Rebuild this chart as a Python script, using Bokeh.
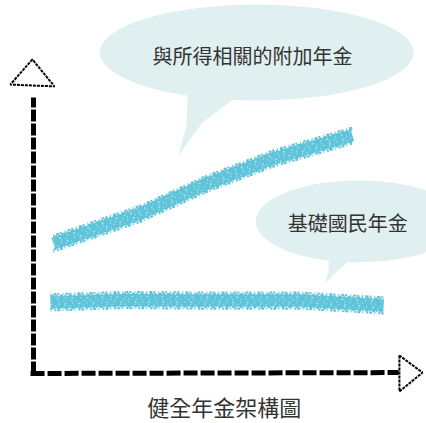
from bokeh.plotting import figure
from bokeh.models import Range1d, Label
from bokeh.embed import file_html
from bokeh.resources import INLINE

# ---- data (schematic values) ----
supp_x = [0.54, 2.92, 4.74, 6.54, 8.69]
supp_y = [4.33, 5.33, 6.33, 7.17, 7.93]
base_x = [0.46, 2.5, 4.55, 7.28, 9.54]
base_y = [2.37, 2.45, 2.43, 2.43, 2.27]
supp_label = "與所得相關的附加年金"
base_label = "基礎國民年金"
title_text = "健全年金架構圖"

W, H = 426, 423
FONT = "Noto Sans CJK TC"
LINE_C = "#5fc4d9"
BUB_C = "#e0eff0"

p = figure(width=W, height=H, output_backend="svg", toolbar_location=None,
           x_range=Range1d(-0.899, 10.708), y_range=Range1d(-1.667, 12.433),
           min_border=0)
p.axis.visible = False
p.grid.visible = False
p.outline_line_color = None
p.background_fill_color = "white"

# speech bubbles
p.ellipse(x=6.08, y=10.7, width=314, height=96, width_units="screen",
          height_units="screen", fill_color=BUB_C, line_color=None)
p.patch(x=[4.2, 4.17, 3.95, 4.6, 5.5], y=[9.3, 8.27, 7.27, 8.37, 9.2],
        fill_color=BUB_C, line_color=None)
p.ellipse(x=8.85, y=5.07, width=205, height=82, width_units="screen",
          height_units="screen", fill_color=BUB_C, line_color=None)
p.patch(x=[8.05, 8.04, 7.96, 8.3, 8.75], y=[4.0, 3.43, 3.03, 3.43, 3.9],
        fill_color=BUB_C, line_color=None)

# series lines (chalky texture made of dashed strokes)
edge_styles = [(0.27, 2, "1 2 3 1 2 3"), (0.21, 2, "4 1 2 2"),
               (-0.21, 2, "3 1 1 2"), (-0.27, 2, "1 3 2 1 3 2")]
speck_styles = [(0.12, "1 5 2 7"), (0.03, "1 7 1 4"), (-0.06, "2 6 1 5"),
                (-0.14, "1 4 1 8")]
for xs, ys in [(supp_x, supp_y), (base_x, base_y)]:
    p.line(xs, ys, line_color=LINE_C, line_width=12, line_join="round")
    for off, w, dash in edge_styles:
        p.line(xs, [v + off for v in ys], line_color=LINE_C, line_width=w,
               line_dash=dash)
    for off, dash in speck_styles:
        p.line(xs, [v + off for v in ys], line_color="#bfe8f1", line_width=1.5,
               line_dash=dash, line_alpha=0.8)

# axes (sketchy)
p.line([0, 0], [0, 9.2], line_color="black", line_width=5, line_dash="12 2")
p.line([-0.08, 9.95], [0, 0.03], line_color="black", line_width=5, line_dash="14 3")
p.patch(x=[-0.03, -0.63, 0.57], y=[10.47, 9.63, 9.57], fill_color="white",
        line_color="black", line_width=2, line_dash="3 1")
p.patch(x=[9.97, 9.97, 10.6], y=[0.6, -0.6, 0.03], fill_color="white",
        line_color="black", line_width=2, line_dash="3 1")

# texts
for x, y, t, s in [(5.97, 10.6, supp_label, "20px"), (8.56, 5.03, base_label, "20px"),
                   (5.2, -1.1, title_text, "22px")]:
    p.add_layout(Label(x=x, y=y, text=t, text_font=FONT, text_font_size=s,
                       text_color="#333333", text_align="center",
                       text_baseline="middle"))

open("out.html", "w").write(file_html(p, INLINE))
